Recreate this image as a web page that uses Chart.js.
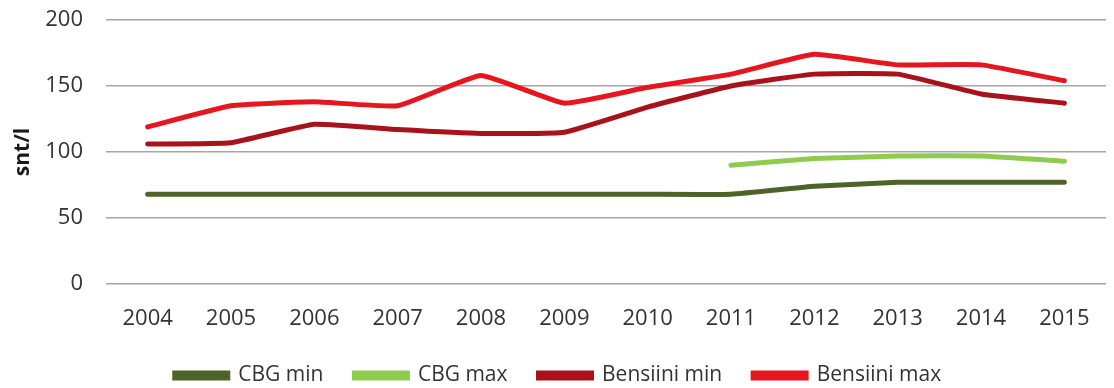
<!DOCTYPE html>
<html>
<head>
<meta charset="utf-8">
<script src="https://cdn.jsdelivr.net/npm/chart.js@4/dist/chart.umd.min.js"></script>
<style>
  html, body { margin: 0; padding: 0; background: #fff; }
  #wrap { width: 1114px; height: 388px; }
</style>
</head>
<body>
<div id="wrap"><canvas id="chart" width="1114" height="388"></canvas></div>
<script>
const years = ['2004', '2005', '2006', '2007', '2008', '2009', '2010', '2011', '2012', '2013', '2014', '2015'];
const cbgMin = [68, 68, 68, 68, 68, 68, 68, 68, 74, 77, 77, 77];
const cbgMax = [null, null, null, null, null, null, null, 90, 95, 97, 97, 93];
const bensiiniMin = [106, 107, 121, 117, 114, 115, 134, 150, 159, 159, 144, 137];
const bensiiniMax = [119, 135, 138, 135, 158, 137, 149, 159, 174, 166, 166, 154];
const yTicks = [0, 50, 100, 150, 200];

const font = "'Open Sans', 'DejaVu Sans', sans-serif";

function series(label, data, color) {
    return {
        label: label,
        data: data,
        borderColor: color,
        backgroundColor: color,
        borderWidth: 5,
        pointRadius: 0,
        tension: 0.12,
        borderCapStyle: 'round',
        spanGaps: false,
    };
}

new Chart(document.getElementById('chart'), {
    type: 'line',
    data: {
        labels: years,
        datasets: [
            series('CBG min', cbgMin, '#4f6228'),
            series('CBG max', cbgMax, '#8fcb4f'),
            series('Bensiini min', bensiiniMin, '#a8121b'),
            series('Bensiini max', bensiiniMax, '#e5161d'),
        ],
    },
    options: {
        responsive: false,
        animation: false,
        // legend row sits close to the canvas edge, hence the negative bottom
        layout: { padding: { left: 10, right: 8, top: 20, bottom: -8 } },
        plugins: {
            tooltip: { enabled: false },
            legend: {
                position: 'bottom',
                labels: {
                    boxWidth: 53,
                    boxHeight: 5,
                    padding: 31,
                    color: '#333333',
                    font: { family: font, size: 21 },
                },
            },
        },
        scales: {
            x: {
                offset: true,
                grid: { display: false },
                border: { display: false },
                afterFit: (scale) => { scale.height = 50; },
                ticks: {
                    color: '#333333',
                    font: { family: font, size: 22 },
                    maxRotation: 0,
                    padding: 14,
                },
            },
            y: {
                min: 0,
                max: 200,
                afterBuildTicks: (scale) => {
                    scale.ticks = yTicks.map(v => ({ value: v }));
                },
                afterFit: (scale) => {
                    scale.width = 96;
                    scale.paddingTop = 0;
                    scale.paddingBottom = 0;
                },
                grid: { color: '#a6a6a6', lineWidth: 1.5, drawTicks: false },
                border: { display: false },
                ticks: {
                    color: '#333333',
                    font: { family: font, size: 22 },
                    padding: 23,
                },
                title: {
                    display: true,
                    text: 'snt/l',
                    color: '#1a1a1a',
                    font: { family: font, size: 21, weight: 'bold' },
                    padding: { top: 0, bottom: 1 },
                },
            },
        },
    },
});
</script>
</body>
</html>
